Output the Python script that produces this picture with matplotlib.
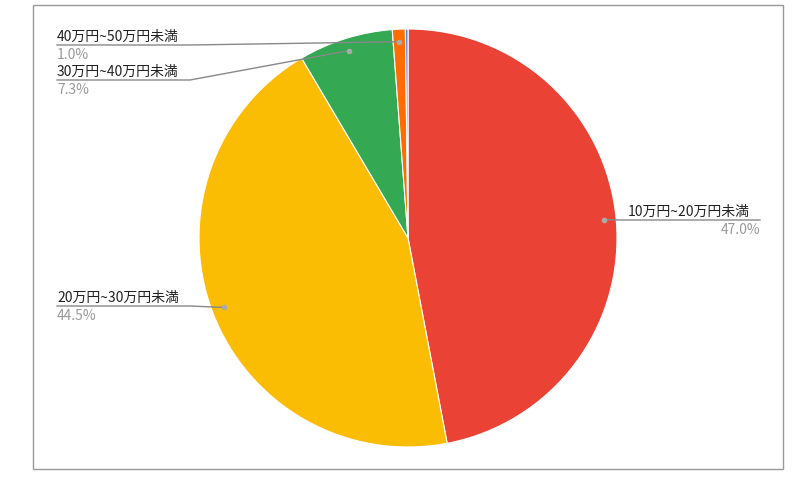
import matplotlib
matplotlib.use("Agg")
import matplotlib.pyplot as plt
import numpy as np

labels = ["10万円~20万円未満", "20万円~30万円未満", "30万円~40万円未満", "40万円~50万円未満", "50万円以上"]
values = [47.0, 44.5, 7.3, 1.0, 0.2]
colors = ["#EA4335", "#FBBC04", "#34A853", "#FF6D01", "#4285F4"]

plt.rcParams['font.family'] = ['Noto Sans CJK JP', 'DejaVu Sans']
W, H = 812, 485
fig = plt.figure(figsize=(W/100, H/100), dpi=100)
ax = fig.add_axes([0, 0, 1, 1])
ax.set_xlim(0, W); ax.set_ylim(0, H); ax.set_aspect('equal'); ax.axis('off')

cx, cy, R = 408, H - 239, 209
ax.add_patch(plt.Rectangle((33, H-470), 750, 464, fill=False, ec="#999999", lw=1))
ax.pie(values, colors=colors, center=(cx, cy), radius=R, startangle=90,
       counterclock=False, wedgeprops=dict(ec="white", lw=0.8), frame=True)
ax.set_xlim(0, W); ax.set_ylim(0, H); ax.axis('off')

# label layout: (text x, text y (top-down px), side, underline end x)
layout = {0: (628, 212, 'right', 760), 1: (57, 298, 'left', 190),
          2: (57, 72, 'left', 190), 3: (57, 37, 'left', 190)}
tot = sum(values)
cum = 0
for i, v in enumerate(values):
    mid = (cum + v/2) / tot
    cum += v
    if i not in layout:
        continue
    ang = np.pi/2 - 2*np.pi*mid
    dx, dy = cx + 0.94*R*np.cos(ang), cy + 0.94*R*np.sin(ang)
    tx, ty, side, ex = layout[i]
    ly = H - (ty + 9)
    if side == 'right':
        ax.plot([dx, tx - 8, ex], [dy, ly, ly], color="#888888", lw=1)
        ax.text(tx, H - ty, labels[i], fontsize=10, va='center', ha='left', color="#222222")
        ax.text(ex, H - ty - 18, f"{v:.1f}%", fontsize=10, va='center', ha='right', color="#999999")
    else:
        ax.plot([tx, ex, dx], [ly, ly, dy], color="#888888", lw=1)
        ax.text(tx, H - ty, labels[i], fontsize=10, va='center', ha='left', color="#222222")
        ax.text(tx, H - ty - 18, f"{v:.1f}%", fontsize=10, va='center', ha='left', color="#999999")
    ax.plot([dx], [dy], 'o', color="#aaaaaa", ms=3)

fig.savefig("out.png", dpi=100)
